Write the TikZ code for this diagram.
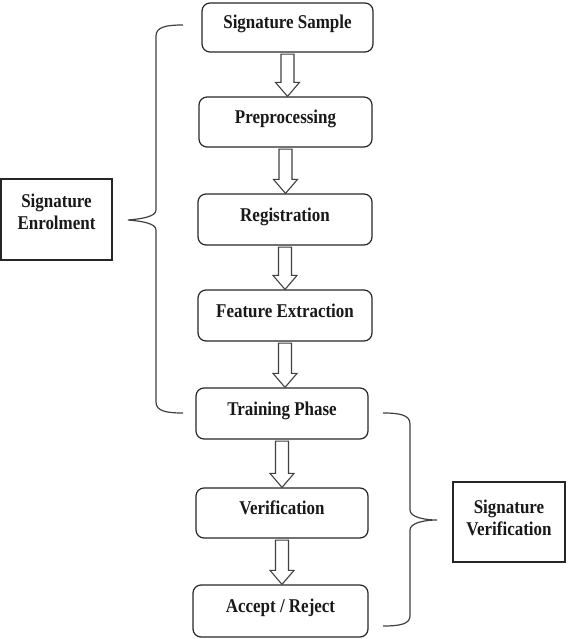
\documentclass[tikz,border=0pt]{standalone}
\usepackage{fontspec}
\setmainfont{Liberation Serif}[FakeStretch=0.87]
\usetikzlibrary{calc}
\tikzset{
  box/.style={draw=black!85, line width=1.2pt, rounded corners=8pt, inner sep=0pt,
    minimum width=172pt, minimum height=50pt, text height=13pt, text depth=10pt,
    font=\fontsize{19.5}{22}\selectfont\bfseries, text=black!90},
  sidebox/.style={draw=black!85, line width=1.2pt, inner sep=0pt},
  sidetext/.style={inner sep=0pt, align=center,
    font=\fontsize{19.5}{22}\selectfont\bfseries, text=black!90},
  brace/.style={draw=black!75, line width=1.2pt},
  blockarrow/.style={draw=black!75, line width=1.1pt, fill=white, line join=miter}
}
\newcommand{\blockarrow}[2]{%
  \draw[blockarrow] let \p1=(#1.south), \p2=(#2.north) in
    (\x1-6.5pt,\y1-1.5pt) -- (\x1-6.5pt,\y2+14pt) -- (\x1-12pt,\y2+14pt) -- (\x1,\y2)
    -- (\x1+12pt,\y2+14pt) -- (\x1+6.5pt,\y2+14pt) -- (\x1+6.5pt,\y1-1.5pt) -- cycle;}
\begin{document}
\begin{tikzpicture}[x=1pt,y=-1pt]
\useasboundingbox (0,0) rectangle (567,639);
\node[box, minimum width=171pt, minimum height=49pt] (s1) at (287.5,27.5) {Signature Sample};
\node[box, minimum width=173pt] (s2) at (285.5,122) {Preprocessing};
\node[box, minimum height=51pt, minimum width=174pt] (s3) at (285,219.5) {Registration};
\node[box, minimum height=51pt, minimum width=174pt] (s4) at (285,315.5) {Feature Extraction};
\node[box, minimum height=51pt] (s5) at (282,413.5) {Training Phase};
\node[box] (s6) at (282,513) {Verification};
\node[box, minimum width=175pt, minimum height=52pt] (s7) at (280.5,611) {Accept / Reject};
\blockarrow{s1}{s2}
\blockarrow{s2}{s3}
\blockarrow{s3}{s4}
\blockarrow{s4}{s5}
\blockarrow{s5}{s6}
\blockarrow{s6}{s7}
\node[sidebox, minimum width=111pt, minimum height=81pt] (enr) at (56.5,219.5) {};
\node[sidetext] (enrt) at ($(enr.center)+(0,-8)$) {Signature\\Enrolment};
\node[sidebox, minimum width=112pt, minimum height=80pt] (ver) at (509,522) {};
\node[sidetext] (vert) at ($(ver.center)+(0,-4)$) {Signature\\Verification};
\draw[brace] (183,25) .. controls (166,25) and (156,27) .. (156,36) -- (156,210)
  .. controls (156,217) and (140,219) .. (128,220)
  .. controls (140,221) and (156,223) .. (156,230) -- (156,402)
  .. controls (156,411) and (166,413) .. (183,413);
\draw[brace] (383,413) .. controls (400,413) and (410,415) .. (410,424) -- (410,510)
  .. controls (410,517) and (424,520) .. (437,520)
  .. controls (424,520) and (410,523) .. (410,530) -- (410,616)
  .. controls (410,624) and (400,626) .. (383,626);
\end{tikzpicture}
\end{document}
